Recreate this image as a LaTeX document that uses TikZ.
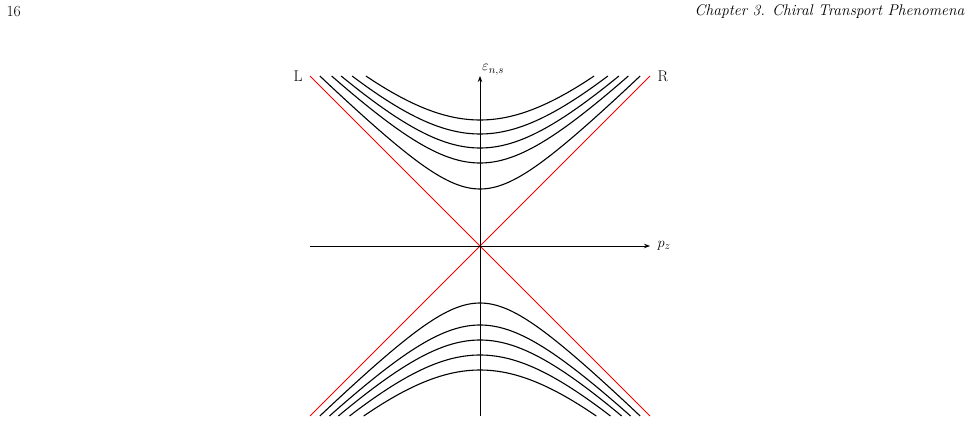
\documentclass[tikz,border=0pt]{standalone}
\usetikzlibrary{arrows.meta}
\begin{document}
\begin{tikzpicture}[x=10pt,y=10pt,font=\fontsize{15.5}{18}\selectfont,
  band/.style={black,line width=1.1pt},
  axisline/.style={line width=0.8pt,-{Stealth[length=6pt]}}]
\useasboundingbox (0,0) rectangle (97.5,42.4);
\node[anchor=west] (pg) at (0.3,41.2) {16};
\node[anchor=east] (ch) at (96.8,41.2) {\itshape Chapter 3. Chiral Transport Phenomena};
\begin{scope}[shift={(48,17.8)}]
\coordinate (o) at (0,0);
\draw[red,line width=1pt] (-17,17) -- (17,-17);
\draw[red,line width=1pt] (17,17) -- (-17,-17);
\foreach \m in {5.7,8.3,9.8,11.2,12.6}{
  \pgfmathsetmacro{\w}{sqrt(289-\m*\m)}
  \draw[band] plot[domain=-\w:\w,samples=60,smooth] (\x,{sqrt(\x*\x+\m*\m)});
}
\foreach \m in {5.7,7.9,9.4,10.9,12.4}{
  \pgfmathsetmacro{\w}{sqrt(289-\m*\m)}
  \draw[band] plot[domain=-\w:\w,samples=60,smooth] (\x,{-sqrt(\x*\x+\m*\m)});
}
\coordinate (xs) at (-17,0); \coordinate (xe) at (17,0);
\coordinate (ys) at (0,-17); \coordinate (ye) at (0,17);
\draw[axisline] (xs) -- (xe);
\draw[axisline] (ys) -- (ye);
\node[anchor=west] (pz) at (17.4,0) {$p_z$};
\node[anchor=west,inner sep=1pt] (eps) at (0.1,17.6) {$\varepsilon_{n,s}$};
\node[anchor=east] (L) at (-17.4,17) {L};
\node[anchor=west] (R) at (17.4,17) {R};
\end{scope}
\end{tikzpicture}
\end{document}
